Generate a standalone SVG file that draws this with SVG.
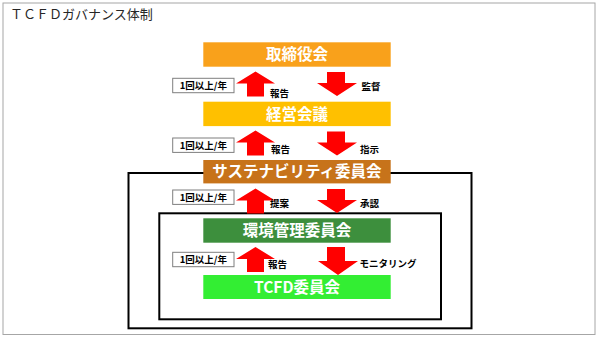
<svg xmlns="http://www.w3.org/2000/svg" width="600" height="339" viewBox="0 0 600 339">
<style>
.t{font-family:"Noto Sans CJK JP","Noto Sans",sans-serif}
.box{font-family:"Noto Sans CJK JP","Noto Sans",sans-serif;font-size:15.5px;font-weight:bold;fill:#fff;text-anchor:middle}
.lb{font-family:"Noto Sans CJK JP","Noto Sans",sans-serif;font-size:9.5px;font-weight:bold;fill:#000}
.freq rect{fill:#fff;stroke:#7f7f7f;stroke-width:1}
.freq text{font-family:"Noto Sans CJK JP","Noto Sans",sans-serif;font-size:9.5px;font-weight:bold;fill:#000;text-anchor:middle}
.ar{fill:#ff0000}
.frame{fill:none;stroke:#000;stroke-width:2}
</style>
<defs>
<path id="up" d="M255.5,0 L275,12 L264,12 L264,25 L247,25 L247,12 L236,12 Z"/>
<path id="dn" d="M327,0 L345,0 L345,11 L357,11 L337,24 L317,11 L327,11 Z"/>
</defs>
<rect x="3" y="3" width="592" height="331.5" fill="#fff" stroke="#a6a6a6" stroke-width="1"/>
<text class="t" x="10" y="19" font-size="13" fill="#262626">ＴＣＦＤガバナンス体制</text>
<g id="frames">
<rect class="frame" x="128.5" y="173" width="343" height="155.3"/>
<rect class="frame" x="159.3" y="213.3" width="281.7" height="106"/>
</g>
<g id="connectors">
<use href="#up" class="ar" transform="translate(0,71.5)"/>
<use href="#dn" class="ar" transform="translate(0,72)"/>
<use href="#up" class="ar" transform="translate(0,130.5)"/>
<use href="#dn" class="ar" transform="translate(0,131.5)"/>
<use href="#up" class="ar" transform="translate(0,188.5)"/>
<use href="#dn" class="ar" transform="translate(0,189)"/>
<use href="#up" class="ar" transform="translate(0,247)"/>
<path class="ar" d="M327,247 L345,247 L345,261 L358,261 L338,275 L318,261 L327,261 Z"/>
<text class="lb" x="270" y="96.5">報告</text>
<text class="lb" x="361.5" y="90">監督</text>
<text class="lb" x="271" y="153">報告</text>
<text class="lb" x="360" y="153">指示</text>
<text class="lb" x="270" y="207">提案</text>
<text class="lb" x="360" y="206.5">承認</text>
<text class="lb" x="268" y="268">報告</text>
<text class="lb" x="359.5" y="266.5" font-weight="normal">モニタリング</text>
</g>
<g id="freq1" class="freq"><rect x="172.7" y="78.3" width="61.3" height="14.4"/><text x="203.3" y="89">1回以上/年</text></g>
<g id="freq2" class="freq"><rect x="172.7" y="138" width="61.3" height="14.4"/><text x="203.3" y="148.7">1回以上/年</text></g>
<g id="freq3" class="freq"><rect x="172.7" y="190" width="61.3" height="14.4"/><text x="203.3" y="200.7">1回以上/年</text></g>
<g id="freq4" class="freq"><rect x="172.7" y="252.3" width="61.3" height="14.4"/><text x="203.3" y="263">1回以上/年</text></g>
<g id="board"><rect x="203.3" y="42.3" width="187.4" height="24.4" fill="#f9a11b"/><text class="box" x="297" y="60">取締役会</text></g>
<g id="mgmt"><rect x="203.3" y="101.7" width="187.4" height="24.4" fill="#ffc000"/><text class="box" x="297" y="119.5">経営会議</text></g>
<g id="sust"><rect x="203.3" y="160" width="187.4" height="23.4" fill="#c7731a"/><text class="box" x="297" y="177.3">サステナビリティ委員会</text></g>
<g id="env"><rect x="203.3" y="218.3" width="187.4" height="24.4" fill="#3d8f3d"/><text class="box" x="297" y="236">環境管理委員会</text></g>
<g id="tcfd"><rect x="203.3" y="275" width="187.4" height="24" fill="#33ee33"/><text class="box" x="297" y="292.5">TCFD委員会</text></g>
</svg>
